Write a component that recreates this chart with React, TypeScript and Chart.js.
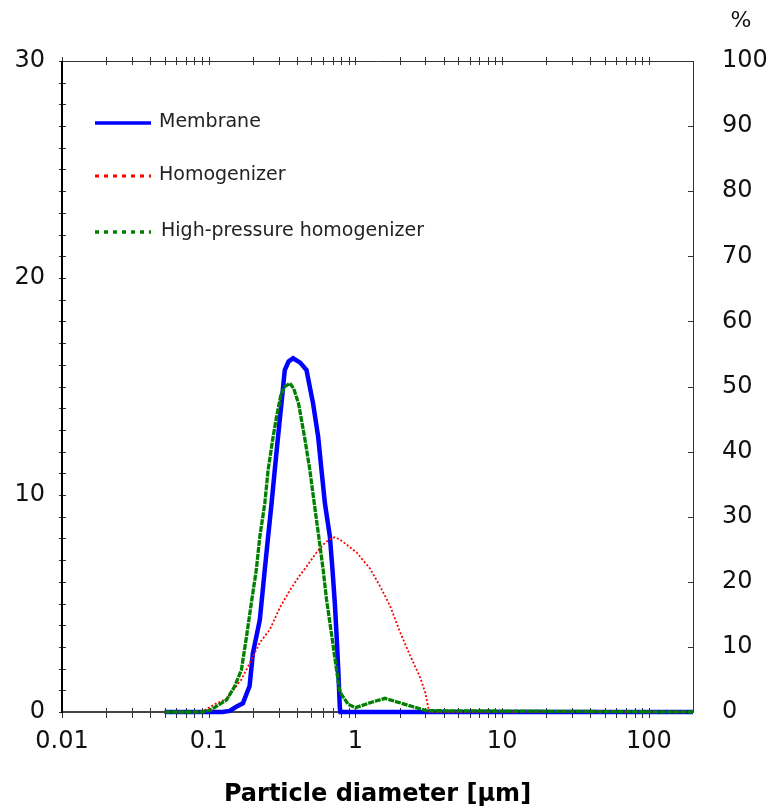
import React, { useEffect, useRef } from "react";
import { Chart, registerables } from "chart.js";

Chart.register(...registerables);

// ---- data ----
const membraneX = [0.05, 0.124, 0.139, 0.154, 0.171, 0.19, 0.2, 0.223, 0.241, 0.254, 0.268, 0.282, 0.297, 0.313, 0.33, 0.35, 0.376, 0.42, 0.464, 0.515, 0.557, 0.587, 0.62, 0.67, 0.698, 0.724, 0.745, 0.764, 0.783, 0.79, 200];
const membraneY = [0, 0, 0.05, 0.24, 0.4, 1.2, 2.7, 4.24, 6.54, 8.08, 9.6, 11.15, 12.7, 14.2, 15.76, 16.15, 16.3, 16.1, 15.76, 14.2, 12.7, 11.15, 9.6, 8.08, 6.54, 5.0, 3.47, 1.94, 0.2, 0, 0];

const homogenizerX = [0.05, 0.085, 0.094, 0.113, 0.132, 0.167, 0.19, 0.223, 0.261, 0.305, 0.357, 0.418, 0.464, 0.543, 0.62, 0.687, 0.72, 0.783, 0.82, 1.02, 1.26, 1.47, 1.72, 2.01, 2.36, 2.76, 2.99, 3.14, 3.2, 200];
const homogenizerY = [0, 0, 0.09, 0.4, 0.6, 1.5, 2.24, 3.2, 3.8, 4.8, 5.6, 6.3, 6.7, 7.35, 7.8, 8.0, 8.05, 7.95, 7.85, 7.35, 6.6, 5.8, 4.9, 3.7, 2.6, 1.6, 0.9, 0.2, 0, 0];

const highPressureX = [0.05, 0.09, 0.101, 0.132, 0.15, 0.167, 0.181, 0.195, 0.211, 0.223, 0.241, 0.254, 0.275, 0.29, 0.31, 0.33, 0.357, 0.38, 0.41, 0.452, 0.489, 0.515, 0.557, 0.603, 0.635, 0.687, 0.745, 0.78, 0.805, 0.893, 1.0, 1.32, 1.59, 1.91, 2.48, 3.06, 200];
const highPressureY = [0, 0, 0.06, 0.55, 1.17, 1.94, 3.47, 5.0, 6.54, 8.08, 9.6, 11.15, 12.7, 13.6, 14.6, 15.0, 15.15, 14.9, 14.2, 12.6, 11.15, 10.0, 8.3, 6.54, 5.2, 3.6, 1.9, 1.0, 0.8, 0.35, 0.2, 0.47, 0.63, 0.47, 0.24, 0.06, 0];

const seriesLabels = ["Membrane", "Homogenizer", "High-pressure homogenizer"];
const seriesColors = ["#0000ff", "#ff0000", "#008000"];

const xDecades = [0.01, 0.1, 1, 10, 100];
const xDecadeLabels = ["0.01", "0.1", "1", "10", "100"];
const xMin = 0.01;
const xMax = 200;
const yLeftMax = 30;
const yRightMax = 100;
const rightTitle = "%";
const xTitle = "Particle diameter [µm]";

const xTickValues: number[] = [];
xDecades.forEach((d) => {
  for (let m = 1; m <= 9; m++) {
    const v = +(d * m).toPrecision(6);
    if (v <= xMax) xTickValues.push(v);
  }
});
xTickValues.push(xMax);

const toPoints = (xs: number[], ys: number[]) => xs.map((x, i) => ({ x, y: ys[i] }));

const FONT = "'DejaVu Sans', sans-serif";

const framePlugin = {
  id: "frameTicks",
  beforeDatasetsDraw(chart: any) {
    const { ctx, chartArea } = chart;
    const { left, right, top, bottom } = chartArea;
    const xs = chart.scales.x;
    const yl = chart.scales.y;
    const yr = chart.scales.y2;
    ctx.save();
    ctx.lineCap = "butt";
    // ticks
    ctx.strokeStyle = "#333";
    ctx.lineWidth = 1;
    ctx.beginPath();
    xTickValues.forEach((v) => {
      if (v >= xMax) return;
      const px = Math.round(xs.getPixelForValue(v)) + 0.5;
      ctx.moveTo(px, bottom - 4);
      ctx.lineTo(px, bottom + 6);
      ctx.moveTo(px, top - 4);
      ctx.lineTo(px, top + 4);
    });
    for (let v = 0; v <= yLeftMax; v++) {
      const py = Math.round(yl.getPixelForValue(v)) + 0.5;
      ctx.moveTo(left - 3, py);
      ctx.lineTo(left + 4, py);
    }
    for (let v = 0; v <= yRightMax; v += 10) {
      const py = Math.round(yr.getPixelForValue(v)) + 0.5;
      ctx.moveTo(right - 5, py);
      ctx.lineTo(right + 1, py);
    }
    ctx.stroke();
    // frame
    ctx.strokeStyle = "#333";
    ctx.lineWidth = 1;
    ctx.beginPath();
    ctx.moveTo(left, top + 0.5);
    ctx.lineTo(right + 0.5, top + 0.5);
    ctx.lineTo(right + 0.5, bottom);
    ctx.stroke();
    ctx.lineWidth = 2;
    ctx.strokeStyle = "#444";
    ctx.beginPath();
    ctx.moveTo(left, bottom);
    ctx.lineTo(right + 1, bottom);
    ctx.stroke();
    ctx.strokeStyle = "#000";
    ctx.beginPath();
    ctx.moveTo(left, top);
    ctx.lineTo(left, bottom + 1);
    ctx.stroke();
    ctx.restore();
  },
  afterDraw(chart: any) {
    const { ctx } = chart;
    ctx.save();
    // % label
    ctx.fillStyle = "#111";
    ctx.font = `22px ${FONT}`;
    ctx.textAlign = "center";
    ctx.textBaseline = "middle";
    ctx.fillText(rightTitle, 741, 21);
    // legend
    const rows = [123, 176, 232];
    const styles = [
      { w: 3.5, dash: [] as number[] },
      { w: 3, dash: [4, 5] },
      { w: 3.5, dash: [4, 5] },
    ];
    seriesLabels.forEach((lab, i) => {
      const y = rows[i];
      ctx.strokeStyle = seriesColors[i];
      ctx.lineWidth = styles[i].w;
      ctx.setLineDash(styles[i].dash);
      ctx.beginPath();
      ctx.moveTo(95, y);
      ctx.lineTo(151, y);
      ctx.stroke();
      ctx.setLineDash([]);
      ctx.fillStyle = "#222";
      ctx.font = `19px ${FONT}`;
      ctx.textAlign = "left";
      ctx.textBaseline = "middle";
      ctx.fillText(lab, i === 2 ? 161 : 159, y - 1);
    });
    ctx.restore();
  },
};

export default function App() {
  const ref = useRef<HTMLCanvasElement | null>(null);
  useEffect(() => {
    document.body.style.margin = "0";
    if (!ref.current) return;
    const chart = new Chart(ref.current, {
      type: "line",
      data: {
        datasets: [
          {
            label: seriesLabels[0],
            data: toPoints(membraneX, membraneY),
            borderColor: seriesColors[0],
            borderWidth: 4.5,
            pointRadius: 0,
            tension: 0,
            order: 2,
            clip: false as any,
            yAxisID: "y",
          },
          {
            label: seriesLabels[1],
            data: toPoints(homogenizerX, homogenizerY),
            borderColor: seriesColors[1],
            borderWidth: 1.8,
            borderDash: [2, 2],
            pointRadius: 0,
            tension: 0,
            order: 1,
            clip: false as any,
            yAxisID: "y",
          },
          {
            label: seriesLabels[2],
            data: toPoints(highPressureX, highPressureY),
            borderColor: seriesColors[2],
            borderWidth: 3.3,
            borderDash: [6, 1],
            pointRadius: 0,
            tension: 0,
            order: 0,
            clip: false as any,
            yAxisID: "y",
          },
        ],
      },
      options: {
        animation: false,
        responsive: true,
        maintainAspectRatio: false,
        events: [],
        layout: { padding: { top: 61, left: 0, right: 0, bottom: 0 } },
        plugins: { legend: { display: false }, tooltip: { enabled: false } },
        scales: {
          x: {
            type: "logarithmic",
            min: xMin,
            max: xMax,
            afterBuildTicks: (s: any) => {
              s.ticks = xTickValues.map((v) => ({ value: v }));
            },
            afterFit: (s: any) => {
              s.height = 98;
            },
            grid: { display: false, drawTicks: false },
            border: { display: false },
            ticks: {
              autoSkip: false,
              maxRotation: 0,
              minRotation: 0,
              padding: 15,
              color: "#111",
              font: { family: FONT, size: 24 },
              callback: (v: any) => {
                const idx = xDecades.findIndex((d) => Math.abs(Math.log10(d) - Math.log10(Number(v))) < 1e-6);
                return idx >= 0 ? xDecadeLabels[idx] : "";
              },
            },
            title: {
              display: true,
              text: xTitle,
              color: "#000",
              font: { family: FONT, size: 24, weight: "bold" },
              padding: { top: 0, bottom: 1 },
            },
          },
          y: {
            position: "left",
            min: 0,
            max: yLeftMax,
            afterFit: (s: any) => {
              s.width = 62;
            },
            grid: { display: false, drawTicks: false },
            border: { display: false },
            ticks: { stepSize: 10, padding: 17, color: "#111", font: { family: FONT, size: 24 } },
          },
          y2: {
            position: "right",
            min: 0,
            max: yRightMax,
            afterFit: (s: any) => {
              s.width = 80;
            },
            grid: { display: false, drawTicks: false },
            border: { display: false },
            ticks: { stepSize: 10, padding: 29, color: "#111", font: { family: FONT, size: 24 } },
          },
        },
      },
      plugins: [framePlugin],
    } as any);
    return () => chart.destroy();
  }, []);
  return (
    <div style={{ width: 773, height: 810, position: "relative" }}>
      <canvas ref={ref} />
    </div>
  );
}
